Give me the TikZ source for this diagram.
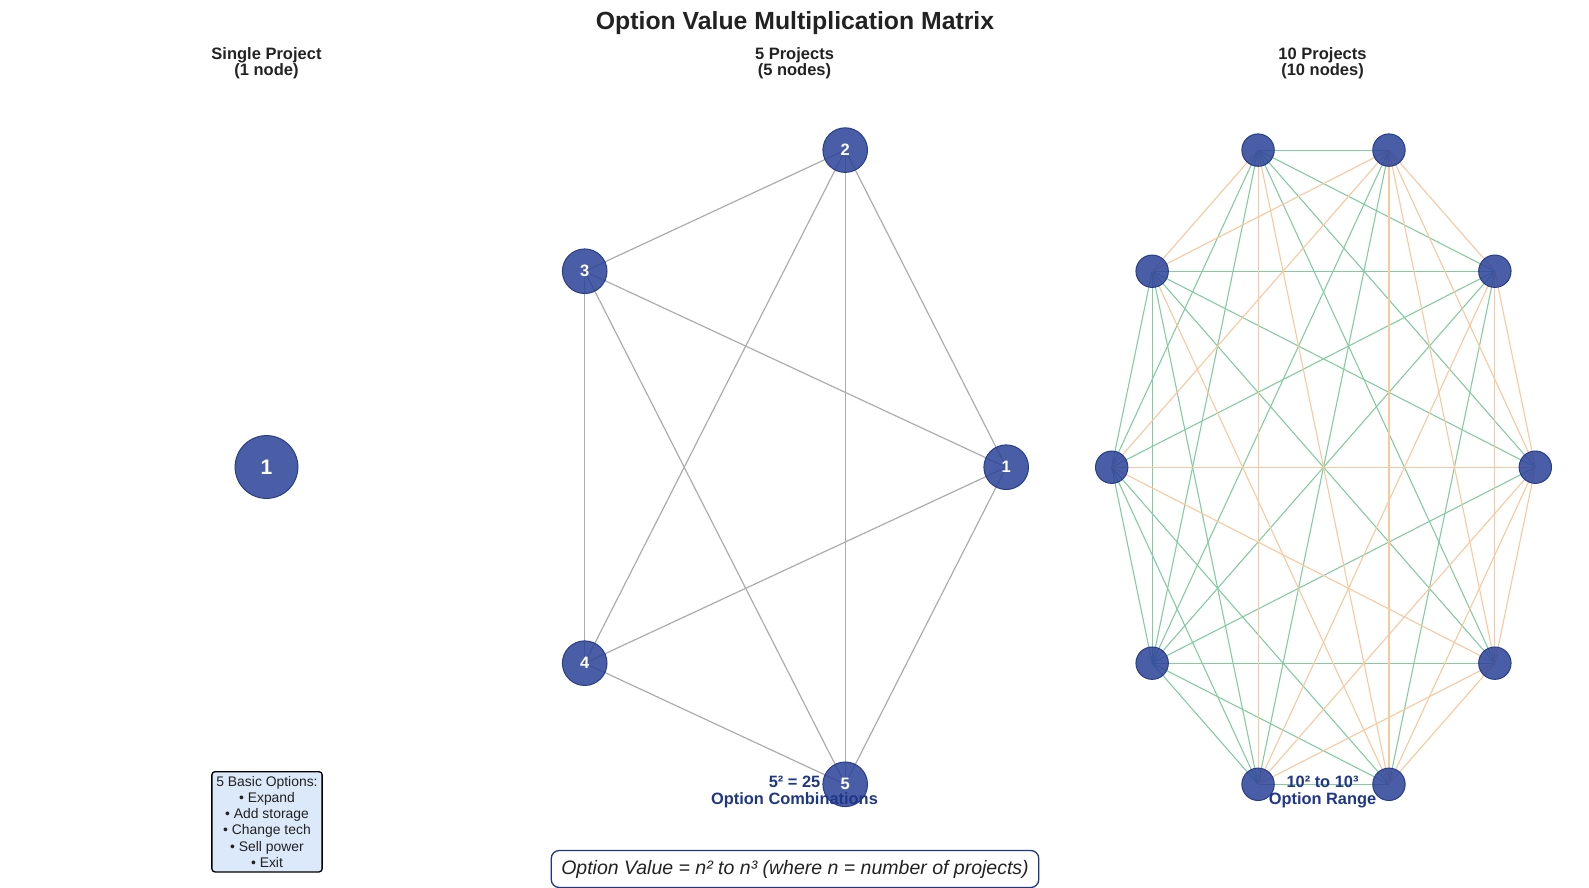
\documentclass[tikz,border=0pt]{standalone}
\usepackage{fontspec}
\setmainfont{Liberation Sans}
\pgfdeclarelayer{background}
\pgfsetlayers{background,main}

\definecolor{nodeblue}{RGB}{42,66,153}
\definecolor{nodeedge}{RGB}{40,60,140}
\definecolor{linkgray}{RGB}{172,172,172}
\definecolor{linkgreen}{RGB}{132,204,160}
\definecolor{linkorange}{RGB}{250,200,158}
\definecolor{labelblue}{RGB}{30,55,135}
\definecolor{inkdark}{RGB}{34,34,34}
\definecolor{boxfill}{RGB}{220,233,250}

\tikzset{
  proj/.style={circle,fill=nodeblue,fill opacity=0.85,draw=nodeedge,
    line width=1pt,inner sep=0pt,text=white,text opacity=1},
  head/.style={align=center,text=inkdark,
    font=\bfseries\fontsize{16.5}{16.5}\selectfont},
  note/.style={align=center,text=labelblue,
    font=\bfseries\fontsize{16.4}{16.4}\selectfont},
  graylink/.style={draw=linkgray,line width=1.2pt},
  greenlink/.style={draw=linkgreen,line width=1.1pt},
  orangelink/.style={draw=linkorange,line width=1.1pt},
  optbox/.style={draw=black,line width=1.3pt,rounded corners=3pt,fill=boxfill,
    align=center,inner sep=4.5pt,text=inkdark,
    font=\fontsize{13.9}{16.2}\selectfont},
  formula/.style={draw=labelblue,line width=1.3pt,rounded corners=8pt,fill=white,
    inner xsep=10pt,minimum height=37pt,text=inkdark,
    font=\itshape\fontsize{19.5}{22}\selectfont}
}

\begin{document}
\begin{tikzpicture}[x=1pt,y=-1pt,line cap=round]
  \useasboundingbox (0,0) rectangle (1589,888);

  % titles
  \node[text=inkdark,font=\bfseries\fontsize{24.8}{28}\selectfont] (title) at (795,23) {Option Value Multiplication Matrix};
  \node[head] (headone) at (266.5,63) {Single Project\\(1 node)};
  \node[head] (headfive) at (794.5,63) {5 Projects\\(5 nodes)};
  \node[head] (headten) at (1322.5,63) {10 Projects\\(10 nodes)};

  % single project
  \node[proj,minimum size=62.8pt,font=\bfseries\fontsize{21}{21}\selectfont] (s1) at (266.5,467) {1};
  \node[optbox] (basics) at (267,821.8) {5 Basic Options:\\• Expand\\• Add storage\\• Change tech\\• Sell power\\• Exit};

  % five projects
  \foreach \k in {1,...,5}
    \node[proj,minimum size=44.6pt,font=\bfseries\fontsize{16.5}{16.5}\selectfont] (p\k)
      at ({773.2+233*cos(72*(\k-1))},{467.2-333.4*sin(72*(\k-1))}) {\k};
  \begin{pgfonlayer}{background}
    \foreach \a/\b in {1/2,1/3,1/4,1/5,2/3,2/4,2/5,3/4,3/5,4/5}
      \draw[graylink] (p\a.center) -- (p\b.center);
  \end{pgfonlayer}
  \node[note] (combos) at (794.5,792) {5² = 25\\Option Combinations};

  % ten projects
  \foreach \k in {0,...,9}
    \node[proj,minimum size=32.4pt] (q\k)
      at ({1323.5+211.8*cos(36*\k)},{467.2-333.4*sin(36*\k)}) {};
  \begin{pgfonlayer}{background}
    \foreach \a/\b in {0/3,0/4,0/6,1/3,1/4,1/5,1/6,1/8,2/3,2/6,2/7,3/5,3/6,3/9,
                       4/5,4/6,4/7,4/9,5/6,5/7,5/8,6/7,6/8,6/9,7/8}
      \draw[greenlink] (q\a.center) -- (q\b.center);
    \foreach \a/\b in {0/1,0/2,0/5,0/7,0/8,0/9,1/2,1/7,1/9,2/4,2/5,2/8,2/9,
                       3/4,3/7,3/8,4/8,5/9,7/9,8/9}
      \draw[orangelink] (q\a.center) -- (q\b.center);
  \end{pgfonlayer}
  \node[note] (range) at (1322.5,792) {10² to 10³\\Option Range};

  % formula
  \node[formula] (rule) at (795,869) {Option Value = n² to n³ (where n = number of projects)};
\end{tikzpicture}
\end{document}
